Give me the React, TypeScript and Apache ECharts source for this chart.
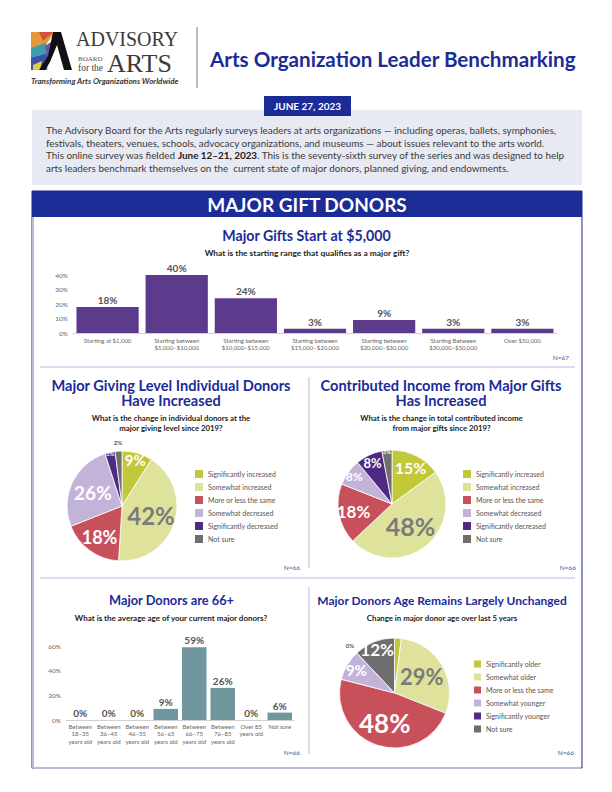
import React, { useEffect, useRef } from "react";
import * as echarts from "echarts";

// ---------------- data ----------------
const GIFT_CATEGORIES = [
  "Starting at $1,000",
  "Starting between\n$5,000–$10,000",
  "Starting between\n$10,000–$15,000",
  "Starting between\n$15,000–$20,000",
  "Starting between\n$20,000–$30,000",
  "Starting Between\n$30,000–$50,000",
  "Over $50,000",
];
const GIFT_VALUES = [18, 40, 24, 3, 9, 3, 3];
const GIFT_AXIS = { min: 0, max: 40, interval: 10 };

const CHANGE_NAMES = [
  "Significantly increased",
  "Somewhat increased",
  "More or less the same",
  "Somewhat decreased",
  "Significantly decreased",
  "Not sure",
];
const DONOR_LEVEL_VALUES = [9, 42, 18, 26, 3, 2];
const INCOME_VALUES = [15, 48, 18, 8, 8, 3];

const AGE_CATEGORIES = [
  "Between\n18–35\nyears old",
  "Between\n36–45\nyears old",
  "Between\n46–55\nyears old",
  "Between\n56–65\nyears old",
  "Between\n66–75\nyears old",
  "Between\n76–85\nyears old",
  "Over 85\nyears old",
  "Not sure",
];
const AGE_VALUES = [0, 0, 0, 9, 59, 26, 0, 6];
const AGE_AXIS = { min: 0, max: 60, interval: 20 };

const AGE_CHANGE_NAMES = [
  "Significantly older",
  "Somewhat older",
  "More or less the same",
  "Somewhat younger",
  "Significantly younger",
  "Not sure",
];
const AGE_CHANGE_VALUES = [2, 29, 48, 9, 0, 12];

const N_LABELS = ["N=67", "N=66", "N=66", "N=66", "N=66"];

// ---------------- styles ----------------
const NAVY = "#1b2c97";
const LAVENDER = "#b7badf";
const PIE_COLORS = ["#c2c83a", "#dfe29b", "#c8505a", "#c3b3d9", "#4f2a84", "#6e6e6e"];
const PIE1_LABEL_STYLE = [
  { f: 0.81, size: 15, color: "#ffffff" },
  { f: 0.5, size: 24, color: "#7b7b7b" },
  { f: 0.64, size: 18, color: "#ffffff" },
  { f: 0.53, size: 19, color: "#ffffff" },
  { f: 0.93, size: 6, color: "#ffffff" },
  { f: 1.1, size: 6, color: "#555555" },
];
const PIE2_LABEL_STYLE = [
  { f: 0.7, size: 16, color: "#ffffff" },
  { f: 0.48, size: 25, color: "#7b7b7b" },
  { f: 0.67, size: 17, color: "#ffffff" },
  { f: 0.81, size: 12, color: "#ffffff" },
  { f: 0.79, size: 13, color: "#ffffff" },
  { f: 0.93, size: 6, color: "#ffffff" },
];
const PIE4_LABEL_STYLE = [
  { f: 0.91, size: 6, color: "#f1f3c8" },
  { f: 0.52, size: 22, color: "#7b7b7b" },
  { f: 0.52, size: 26, color: "#ffffff" },
  { f: 0.75, size: 15, color: "#ffffff" },
  { f: 1.13, size: 6, color: "#555555" },
  { f: 0.8, size: 17, color: "#ffffff" },
];

const FONT = "Lato";

function pieSeries(
  center: number[],
  radius: number,
  names: string[],
  values: number[],
  colors: string[],
  labelStyles: { f: number; size: number; color: string }[]
) {
  const base = {
    type: "pie",
    center,
    radius: [0, radius],
    startAngle: 90,
    clockwise: true,
    silent: true,
    avoidLabelOverlap: false,
    label: { show: false },
    labelLine: { show: false },
    emphasis: { disabled: true },
    itemStyle: { borderColor: "#ffffff", borderWidth: 0.8 },
    data: values.map((v, i) => ({ name: names[i], value: v, itemStyle: { color: colors[i] } })),
  };
  const labels = labelStyles.map((s, i) => ({
    type: "pie",
    center,
    radius: [0, 2 * s.f * radius],
    startAngle: 90,
    clockwise: true,
    silent: true,
    avoidLabelOverlap: false,
    labelLine: { show: false },
    emphasis: { disabled: true },
    itemStyle: { color: "rgba(0,0,0,0)", borderWidth: 0 },
    z: 3,
    data: values.map((v, j) => ({
      name: names[j],
      value: v,
      itemStyle: { color: "rgba(0,0,0,0)" },
      label:
        j === i
          ? {
              show: true,
              position: "inside",
              formatter: "{c}%",
              fontSize: s.size,
              fontWeight: "bold",
              color: s.color,
              fontFamily: FONT,
            }
          : { show: false },
    })),
  }));
  return [base, ...labels];
}

function legend(left: number, top: number, names: string[], colors: string[], size: number) {
  return {
    orient: "vertical",
    left,
    top,
    itemWidth: size,
    itemHeight: size,
    itemGap: 5,
    padding: 0,
    icon: "rect",
    selectedMode: false,
    textStyle: { fontSize: 7, color: "#555555", fontFamily: FONT, lineHeight: 8 },
    data: names.map((n, i) => ({ name: n, itemStyle: { color: colors[i], borderWidth: 0 } })),
  };
}

function txt(x: number, y: number, text: string, style: any) {
  return {
    type: "text",
    x,
    y,
    silent: true,
    style: { text, fontFamily: FONT, verticalAlign: "middle", align: "left", fill: "#333", ...style },
  };
}

function line(x1: number, y1: number, x2: number, y2: number, stroke: string, lineWidth: number) {
  return { type: "line", silent: true, shape: { x1, y1, x2, y2 }, style: { stroke, lineWidth } };
}

export default function App() {
  const ref = useRef<HTMLDivElement>(null);

  useEffect(() => {
    if (!ref.current) return;
    const chart = echarts.init(ref.current, null, { renderer: "svg" });

    const logo = {
      type: "group",
      x: 31,
      y: 32,
      silent: true,
      children: [
        { type: "polygon", shape: { points: [[0, 0], [24, 0], [14, 14], [0, 18]] }, style: { fill: "#e4983a" } },
        { type: "polygon", shape: { points: [[8, 0], [22, 0], [12, 9]] }, style: { fill: "#d2513a" } },
        { type: "polygon", shape: { points: [[0, 16], [15, 11], [18, 24], [0, 28]] }, style: { fill: "#3c9dae" } },
        { type: "polygon", shape: { points: [[0, 26], [18, 21], [16, 38], [0, 38]] }, style: { fill: "#3f4fa8" } },
        { type: "polygon", shape: { points: [[2, 33], [11, 29], [9, 38], [2, 38]] }, style: { fill: "#e2cf3b" } },
        { type: "polygon", shape: { points: [[14, 14], [20, 10], [22, 22], [16, 24]] }, style: { fill: "#7a4fa0" } },
        {
          type: "polygon",
          shape: { points: [[22, 0], [30, 0], [41, 38], [33, 38], [26, 13], [19, 30], [14, 38], [8, 38], [17, 24]] },
          style: { fill: "#111111" },
        },
      ],
    };

    const introLines = [
      "The Advisory Board for the Arts regularly surveys leaders at arts organizations — including operas, ballets, symphonies,",
      "festivals, theaters, venues, schools, advocacy organizations, and museums — about issues relevant to the arts world.",
      "This online survey was fielded {b|June 12–21, 2023}. This is the seventy-sixth survey of the series and was designed to help",
      "arts leaders benchmark themselves on the  current state of major donors, planned giving, and endowments.",
    ];
    const introStyle = { fontSize: 9.9, fill: "#3a3a3a", fontFamily: FONT };

    const titleStyle = { fontSize: 14.6, lineHeight: 15.5, fontWeight: "bold", fill: NAVY, align: "center" };
    const subStyle = { fontSize: 7.8, lineHeight: 10, fontWeight: "bold", fill: "#222", align: "center" };

    const graphic: any[] = [
      logo,
      txt(76, 39, "ADVISORY", { fontSize: 20, fontFamily: "Liberation Serif", fill: "#3a3a3a" }),
      txt(78, 58.5, "BOARD", { fontSize: 7, fontFamily: "Liberation Serif", fill: "#555" }),
      txt(78, 67.5, "for the", { fontSize: 9.5, fontFamily: "Liberation Serif", fill: "#444" }),
      txt(107, 63, "ARTS", { fontSize: 26, fontFamily: "Liberation Serif", fill: "#3a3a3a" }),
      txt(31, 81, "Transforming Arts Organizations Worldwide", {
        fontSize: 8,
        fontStyle: "italic",
        fontWeight: "bold",
        fill: "#333",
      }),
      line(197, 27, 197, 88, "#555", 0.8),
      txt(210, 59, "Arts Organization Leader Benchmarking", { fontSize: 20.6, fontWeight: "bold", fill: NAVY }),

      // intro box
      { type: "rect", silent: true, shape: { x: 32, y: 110, width: 550, height: 75 }, style: { fill: "#e7e9f3" } },
      { type: "rect", silent: true, shape: { x: 264, y: 96, width: 87, height: 20 }, style: { fill: NAVY } },
      txt(307.5, 106, "JUNE 27, 2023", { fontSize: 10, fontWeight: "bold", fill: "#fff", align: "center" }),
      ...introLines.map((t, i) =>
        txt(46, 129.8 + i * 12.8, t, {
          ...introStyle,
          rich: { b: { ...introStyle, fontWeight: "bold", fill: "#222" } },
        })
      ),

      // section frame
      { type: "rect", silent: true, shape: { x: 32, y: 191, width: 550, height: 577 }, style: { fill: "#fff", stroke: NAVY, lineWidth: 1 } },
      line(33, 217, 33, 768, LAVENDER, 2),
      line(33, 768, 581, 768, LAVENDER, 2),
      { type: "rect", silent: true, shape: { x: 32, y: 191, width: 550, height: 26 }, style: { fill: NAVY } },
      txt(307, 204.5, "MAJOR GIFT DONORS", { fontSize: 19, fontWeight: "bold", fill: "#fff", align: "center" }),
      line(40, 367, 575, 367, LAVENDER, 1.2),
      line(40, 578, 575, 578, LAVENDER, 1.2),
      line(309, 377, 309, 568, LAVENDER, 1),
      line(309, 587, 309, 754, LAVENDER, 1),

      // chart titles
      txt(306.5, 235, "Major Gifts Start at $5,000", { fontSize: 14.2, fontWeight: "bold", fill: NAVY, align: "center" }),
      txt(307, 253, "What is the starting range that qualifies as a major gift?", {
        fontSize: 8.4, fontWeight: "bold", fill: "#222", align: "center",
      }),
      txt(569, 357, N_LABELS[0], { fontSize: 6.5, fill: "#4a5899", align: "right" }),

      txt(171, 393, "Major Giving Level Individual Donors\nHave Increased", titleStyle),
      txt(171, 423, "What is the change in individual donors at the\nmajor giving level since 2019?", subStyle),
      txt(300, 567, N_LABELS[1], { fontSize: 6.5, fill: "#4a5899", align: "right" }),

      txt(441, 393, "Contributed Income from Major Gifts\nHas Increased", titleStyle),
      txt(441.5, 423, "What is the change in total contributed income\nfrom major gifts since 2019?", subStyle),
      txt(576, 567, N_LABELS[2], { fontSize: 6.5, fill: "#4a5899", align: "right" }),

      txt(171.5, 600, "Major Donors are 66+", { fontSize: 12.8, fontWeight: "bold", fill: NAVY, align: "center" }),
      txt(171, 618, "What is the average age of your current major donors?", { fontSize: 8, fontWeight: "bold", fill: "#222", align: "center" }),
      txt(300, 752, N_LABELS[3], { fontSize: 6.5, fill: "#4a5899", align: "right" }),

      txt(442, 600, "Major Donors Age Remains Largely Unchanged", { fontSize: 12, fontWeight: "bold", fill: NAVY, align: "center" }),
      txt(442, 618, "Change in major donor age over last 5 years", { fontSize: 7.8, fontWeight: "bold", fill: "#222", align: "center" }),
      txt(574, 752, N_LABELS[4], { fontSize: 6.5, fill: "#4a5899", align: "right" }),
    ];

    const axisLabelY = { fontSize: 6.5, color: "#666", fontFamily: FONT, formatter: "{value}%", margin: 5 };
    const barLabel = { show: true, position: "top", distance: 2, formatter: "{c}%", fontSize: 10, fontWeight: "bold", color: "#555", fontFamily: FONT };

    const option: any = {
      animation: false,
      textStyle: { fontFamily: FONT },
      grid: [
        { left: 73, top: 275, width: 484, height: 58 },
        { left: 66, top: 646, width: 228, height: 74 },
      ],
      xAxis: [
        {
          type: "category",
          gridIndex: 0,
          data: GIFT_CATEGORIES,
          axisLine: { lineStyle: { color: "#d0d0d0", width: 1 } },
          axisTick: { show: false },
          axisLabel: { interval: 0, fontSize: 6, lineHeight: 6.8, color: "#666", margin: 4, fontFamily: FONT },
        },
        {
          type: "category",
          gridIndex: 1,
          data: AGE_CATEGORIES,
          axisLine: { lineStyle: { color: "#d0d0d0", width: 1 } },
          axisTick: { show: false },
          axisLabel: { interval: 0, fontSize: 6, lineHeight: 7.2, color: "#666", margin: 3, fontFamily: FONT },
        },
      ],
      yAxis: [
        {
          type: "value",
          gridIndex: 0,
          ...GIFT_AXIS,
          axisLabel: axisLabelY,
          splitLine: { show: false },
          axisLine: { show: false },
          axisTick: { show: false },
        },
        {
          type: "value",
          gridIndex: 1,
          ...AGE_AXIS,
          axisLabel: axisLabelY,
          splitLine: { show: false },
          axisLine: { show: false },
          axisTick: { show: false },
        },
      ],
      legend: [
        legend(195, 470, CHANGE_NAMES, PIE_COLORS, 8),
        legend(463, 470, CHANGE_NAMES, PIE_COLORS, 8),
        legend(474, 660, AGE_CHANGE_NAMES, PIE_COLORS, 7),
      ],
      series: [
        {
          type: "bar",
          xAxisIndex: 0,
          yAxisIndex: 0,
          data: GIFT_VALUES,
          barCategoryGap: "10%",
          itemStyle: { color: "#5c3b8c" },
          label: barLabel,
          silent: true,
        },
        {
          type: "bar",
          xAxisIndex: 1,
          yAxisIndex: 1,
          data: AGE_VALUES,
          barCategoryGap: "14%",
          itemStyle: { color: "#6f979d" },
          label: barLabel,
          silent: true,
        },
        ...pieSeries([122, 506], 55, CHANGE_NAMES, DONOR_LEVEL_VALUES, PIE_COLORS, PIE1_LABEL_STYLE),
        ...pieSeries([392, 504], 54, CHANGE_NAMES, INCOME_VALUES, PIE_COLORS, PIE2_LABEL_STYLE),
        ...pieSeries([394.5, 693], 55, AGE_CHANGE_NAMES, AGE_CHANGE_VALUES, PIE_COLORS, PIE4_LABEL_STYLE),
      ],
      graphic,
    };

    chart.setOption(option);
    return () => chart.dispose();
  }, []);

  return (
    <div
      ref={ref}
      style={{ position: "absolute", left: 0, top: 0, width: 612, height: 792, background: "#fff" }}
    />
  );
}
